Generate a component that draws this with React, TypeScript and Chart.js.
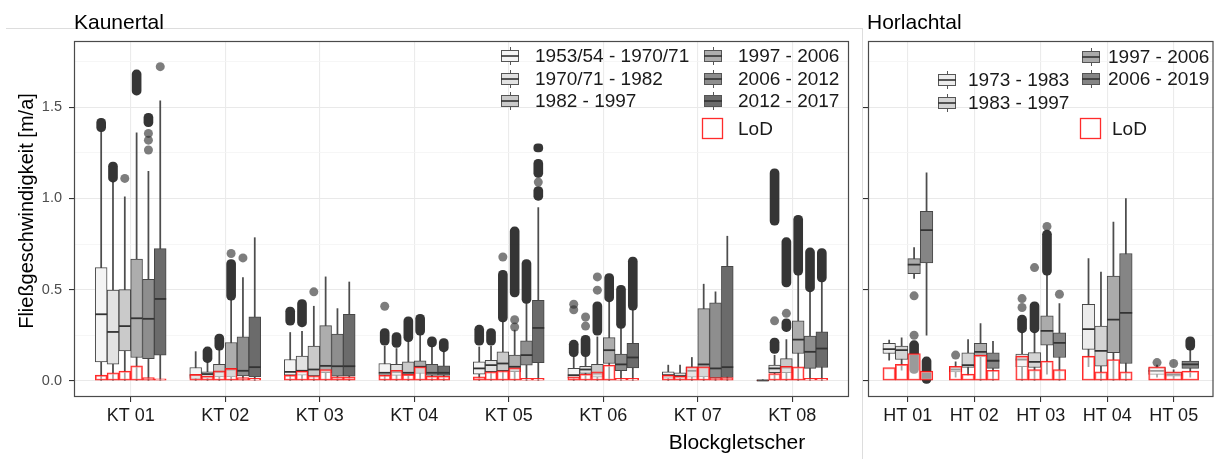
import React, { useEffect, useRef } from 'react';
import { Chart, registerables } from 'chart.js';

Chart.register(...registerables);

const FONT = '"Liberation Sans", Arial, Helvetica, sans-serif';

// ---------------- Kaunertal ----------------
const KT_CATEGORIES = ['KT 01', 'KT 02', 'KT 03', 'KT 04', 'KT 05', 'KT 06', 'KT 07', 'KT 08'];
const KT_SERIES = ['1953/54 - 1970/71', '1970/71 - 1982', '1982 - 1997', '1997 - 2006', '2006 - 2012', '2012 - 2017'];
const KT_FILLS = ['#f4f4f4', '#e2e2e2', '#cacaca', '#adadad', '#8e8e8e', '#6b6b6b'];

// [lower whisker, Q1, median, Q3, upper whisker] per glacier
const KT_BOX_S1 = [[0, 0.104, 0.365, 0.621, 1.366], [0, 0.013, 0.03, 0.073, 0.16], [0, 0.031, 0.049, 0.117, 0.265], [0, 0.031, 0.044, 0.095, 0.19], [0, 0.037, 0.068, 0.104, 0.186], [0, 0.015, 0.031, 0.068, 0.132], [0, 0.015, 0.031, 0.049, 0.086], [0, 0.001, 0.002, 0.004, 0.006]];
const KT_BOX_S2 = [[0, 0.091, 0.268, 0.497, 1.09], [0, 0.015, 0.037, 0.049, 0.1], [0, 0.031, 0.055, 0.135, 0.272], [0, 0.03, 0.049, 0.091, 0.177], [0, 0.05, 0.086, 0.113, 0.19], [0, 0.04, 0.062, 0.08, 0.13], [0, 0.015, 0.026, 0.044, 0.086], [0, 0.044, 0.068, 0.086, 0.14]];
const KT_BOX_S3 = [[0, 0.164, 0.3, 0.5, 1.009], [0, 0.022, 0.049, 0.091, 0.168], [0, 0.027, 0.062, 0.19, 0.409], [0, 0.03, 0.044, 0.104, 0.214], [0, 0.055, 0.095, 0.159, 0.323], [0, 0.02, 0.04, 0.091, 0.241], [0, 0.02, 0.055, 0.077, 0.128], [0, 0.044, 0.073, 0.122, 0.226]];
const KT_BOX_S4 = [[0, 0.128, 0.343, 0.667, 1.36], [0, 0.022, 0.062, 0.21, 0.442], [0, 0.044, 0.082, 0.303, 0.57], [0, 0.04, 0.077, 0.11, 0.25], [0, 0.05, 0.077, 0.141, 0.278], [0, 0.095, 0.168, 0.237, 0.433], [0, 0.022, 0.09, 0.396, 0.53], [0, 0.15, 0.226, 0.329, 0.579]];
const KT_BOX_S5 = [[0, 0.122, 0.34, 0.557, 1.149], [0, 0.027, 0.055, 0.241, 0.566], [0, 0.026, 0.08, 0.256, 0.396], [0, 0.03, 0.044, 0.091, 0.186], [0, 0.086, 0.141, 0.219, 0.424], [0, 0.055, 0.09, 0.146, 0.287], [0, 0.015, 0.068, 0.427, 0.488], [0, 0.068, 0.159, 0.245, 0.488]];
const KT_BOX_S6 = [[0, 0.141, 0.449, 0.725, 1.535], [0, 0.022, 0.075, 0.351, 0.785], [0, 0.026, 0.08, 0.365, 0.542], [0, 0.03, 0.044, 0.082, 0.159], [0, 0.1, 0.29, 0.442, 0.95], [0, 0.071, 0.128, 0.205, 0.387], [0, 0.018, 0.075, 0.628, 0.793], [0, 0.073, 0.177, 0.268, 0.542]];

// Limit of detection per glacier
const KT_LOD_S1 = [0.031, 0.035, 0.031, 0.031, 0.022, 0.022, 0.031, 0.004];
const KT_LOD_S2 = [0.044, 0.026, 0.053, 0.058, 0.049, 0.037, 0.026, 0.04];
const KT_LOD_S3 = [0.053, 0.055, 0.027, 0.035, 0.055, 0.049, 0.077, 0.08];
const KT_LOD_S4 = [0.082, 0.068, 0.062, 0.077, 0.071, 0.086, 0.077, 0.077];
const KT_LOD_S5 = [0.018, 0.018, 0.022, 0.026, 0.013, 0.013, 0.018, 0.013];
const KT_LOD_S6 = [0.011, 0.013, 0.022, 0.026, 0.013, 0.013, 0.018, 0.013];

// single outliers per glacier
const KT_OUT_S1 = [[], [], [], [0.409], [], [0.39, 0.42], [], []];
const KT_OUT_S2 = [[], [], [], [], [], [0.3, 0.35], [], [0.329]];
const KT_OUT_S3 = [[1.11], [], [0.488], [], [0.679], [0.497, 0.57], [], [0.37]];
const KT_OUT_S4 = [[], [0.698], [], [], [0.295, 0.335], [], [], []];
const KT_OUT_S5 = [[1.266, 1.32, 1.357], [0.674], [], [], [], [], [], []];
const KT_OUT_S6 = [[1.723], [], [], [], [1.09], [], [], []];

// dense outlier runs [from, to] per glacier
const KT_CLU_S1 = [[[1.366, 1.44]], [], [[0.305, 0.405]], [[0.195, 0.287]], [[0.195, 0.305]], [[0.132, 0.223]], [], []];
const KT_CLU_S2 = [[[1.09, 1.2]], [[0.1, 0.186]], [[0.296, 0.446]], [[0.183, 0.265]], [[0.195, 0.287]], [[0.132, 0.25]], [], [[0.15, 0.235], [0.853, 1.163]]];
const KT_CLU_S3 = [[], [[0.168, 0.256]], [], [[0.214, 0.351]], [[0.323, 0.606]], [[0.25, 0.433]], [], [[0.27, 0.34], [0.515, 0.785]]];
const KT_CLU_S4 = [[[1.567, 1.705]], [[0.442, 0.665]], [], [[0.25, 0.365]], [[0.46, 0.844]], [[0.433, 0.588]], [], [[0.579, 0.908]]];
const KT_CLU_S5 = [[[1.394, 1.467]], [], [], [[0.186, 0.241]], [[0.424, 0.665]], [[0.287, 0.524]], [], [[0.488, 0.729]]];
const KT_CLU_S6 = [[], [], [], [[0.159, 0.232]], [[0.99, 1.065], [1.115, 1.215], [1.255, 1.3]], [[0.387, 0.679]], [], [[0.542, 0.725]]];

// ---------------- Horlachtal ----------------
const HT_CATEGORIES = ['HT 01', 'HT 02', 'HT 03', 'HT 04', 'HT 05'];
const HT_SERIES = ['1973 - 1983', '1983 - 1997', '1997 - 2006', '2006 - 2019'];
const HT_FILLS = ['#ececec', '#d4d4d4', '#ababab', '#858585'];

const HT_BOX_R1 = [[0.113, 0.15, 0.174, 0.205, 0.223], [0.02, 0.049, 0.062, 0.077, 0.104], [0, 0.077, 0.117, 0.146, 0.263], [0.077, 0.172, 0.283, 0.42, 0.67], [0.02, 0.035, 0.055, 0.073, 0.086]];
const HT_BOX_R2 = [[0.058, 0.117, 0.168, 0.19, 0.236], [0.03, 0.073, 0.086, 0.153, 0.226], [0, 0.073, 0.104, 0.155, 0.263], [0, 0.08, 0.164, 0.3, 0.597], null];
const HT_BOX_R3 = [[0.561, 0.588, 0.637, 0.67, 0.731], [0, 0.131, 0.159, 0.205, 0.314], [0.037, 0.195, 0.274, 0.356, 0.579], [0, 0.155, 0.336, 0.574, 0.871], [0.01, 0.026, 0.035, 0.046, 0.06]];
const HT_BOX_R4 = [[0.25, 0.647, 0.826, 0.93, 1.14], [0, 0.068, 0.11, 0.153, 0.217], [0, 0.128, 0.208, 0.263, 0.424], [0, 0.095, 0.373, 0.698, 0.999], [0.02, 0.068, 0.09, 0.108, 0.168]];

const HT_LOD_R1 = [0.073, 0.08, 0.135, 0.135, 0.077];
const HT_LOD_R2 = [0.09, 0.037, 0.062, 0.049, null];
const HT_LOD_R3 = [0.15, 0.141, 0.108, 0.117, 0.049];
const HT_LOD_R4 = [0.053, 0.058, 0.062, 0.049, 0.053];

const HT_OUT_R1 = [[], [0.141], [0.402, 0.451], [], [0.1]];
const HT_OUT_R2 = [[], [], [0.621], [], []];
const HT_OUT_R3 = [[0.25, 0.466], [], [0.847], [], [0.095]];
const HT_OUT_R4 = [[], [], [0.475], [], []];

const HT_CLU_R1 = [[], [], [[0.263, 0.36]], [], []];
const HT_CLU_R2 = [[], [], [[0.263, 0.433]], [], []];
const HT_CLU_R3 = [[[0.04, 0.22]], [], [[0.579, 0.826]], [], []];
const HT_CLU_R4 = [[[-0.015, 0.131]], [], [], [], [[0.168, 0.241]]];

// ---------------- axes ----------------
const Y_MAJOR = [0, 0.5, 1, 1.5];
const Y_MINOR = [0.25, 0.75, 1.25, 1.75];
const Y_MIN = -0.0888;
const Y_MAX = 1.8637;
const LOD_LABEL = 'LoD';
const Y_TITLE = 'Fließgeschwindigkeit [m/a]';
const X_TITLE = 'Blockgletscher';

const DODGE = 0.75;

type Panel = {
  title: string;
  categories: string[];
  series: string[];
  fills: string[];
  boxes: (number[] | null)[][];
  lods: (number | null)[][];
  outliers: number[][][];
  clusters: number[][][][];
  canvasWidth: number;
  areaLeft: number;
  areaRight: number;
  showYLabels: boolean;
  legend: { s: number; cx: number; tx: number; cy: number }[];
  lodKey: { x: number; y: number; size: number; tx: number; ty: number };
  titlePos: { x: number; y: number };
  yTitle?: { x: number; y: number };
  xTitle?: { x: number; y: number };
};

const AREA_TOP = 41;
const AREA_BOTTOM = 397;
const CANVAS_H = 459;

const KT_PANEL: Panel = {
  title: 'Kaunertal',
  categories: KT_CATEGORIES,
  series: KT_SERIES,
  fills: KT_FILLS,
  boxes: [KT_BOX_S1, KT_BOX_S2, KT_BOX_S3, KT_BOX_S4, KT_BOX_S5, KT_BOX_S6],
  lods: [KT_LOD_S1, KT_LOD_S2, KT_LOD_S3, KT_LOD_S4, KT_LOD_S5, KT_LOD_S6],
  outliers: [KT_OUT_S1, KT_OUT_S2, KT_OUT_S3, KT_OUT_S4, KT_OUT_S5, KT_OUT_S6],
  clusters: [KT_CLU_S1, KT_CLU_S2, KT_CLU_S3, KT_CLU_S4, KT_CLU_S5, KT_CLU_S6],
  canvasWidth: 862,
  areaLeft: 74,
  areaRight: 849,
  showYLabels: true,
  legend: [
    { s: 0, cx: 510, tx: 535, cy: 56 },
    { s: 1, cx: 510, tx: 535, cy: 79 },
    { s: 2, cx: 510, tx: 535, cy: 101 },
    { s: 3, cx: 713, tx: 738, cy: 56 },
    { s: 4, cx: 713, tx: 738, cy: 79 },
    { s: 5, cx: 713, tx: 738, cy: 101 },
  ],
  lodKey: { x: 702, y: 118, size: 21, tx: 738, ty: 129 },
  titlePos: { x: 74, y: 29 },
  yTitle: { x: 27, y: 211 },
  xTitle: { x: 737, y: 449 },
};

const HT_PANEL: Panel = {
  title: 'Horlachtal',
  categories: HT_CATEGORIES,
  series: HT_SERIES,
  fills: HT_FILLS,
  boxes: [HT_BOX_R1, HT_BOX_R2, HT_BOX_R3, HT_BOX_R4],
  lods: [HT_LOD_R1, HT_LOD_R2, HT_LOD_R3, HT_LOD_R4],
  outliers: [HT_OUT_R1, HT_OUT_R2, HT_OUT_R3, HT_OUT_R4],
  clusters: [HT_CLU_R1, HT_CLU_R2, HT_CLU_R3, HT_CLU_R4],
  canvasWidth: 362,
  areaLeft: 12,
  areaRight: 361,
  showYLabels: false,
  legend: [
    { s: 0, cx: 91, tx: 112, cy: 80 },
    { s: 1, cx: 91, tx: 112, cy: 103 },
    { s: 2, cx: 235, tx: 252, cy: 57 },
    { s: 3, cx: 235, tx: 252, cy: 79 },
  ],
  lodKey: { x: 224, y: 118, size: 21, tx: 256, ty: 129 },
  titlePos: { x: 11, y: 29 },
};

function drawIcon(ctx: CanvasRenderingContext2D, cx: number, cy: number, fill: string) {
  ctx.save();
  ctx.strokeStyle = '#555';
  ctx.lineWidth = 1;
  ctx.beginPath();
  ctx.moveTo(cx + 0.5, cy - 9);
  ctx.lineTo(cx + 0.5, cy + 9);
  ctx.stroke();
  ctx.fillStyle = fill;
  ctx.fillRect(cx - 9, cy - 6, 18, 12);
  ctx.strokeRect(cx - 8.5, cy - 5.5, 17, 11);
  ctx.strokeStyle = '#333';
  ctx.lineWidth = 1.6;
  ctx.beginPath();
  ctx.moveTo(cx - 9, cy);
  ctx.lineTo(cx + 9, cy);
  ctx.stroke();
  ctx.restore();
}

function buildConfig(p: Panel): any {
  const nCat = p.categories.length;
  const xMin = -0.6;
  const xMax = nCat - 1 + 0.6;
  const pxPerUnit = (p.areaRight - p.areaLeft) / (xMax - xMin);

  const buckets = new Map<string, any>();
  p.series.forEach((_, j) => {
    p.categories.forEach((__, i) => {
      const box = p.boxes[j][i];
      if (!box) return;
      const present: number[] = [];
      p.boxes.forEach((s, jj) => { if (s[i]) present.push(jj); });
      const n = present.length;
      const k = present.indexOf(j);
      const w = DODGE / n;
      const x = i - DODGE / 2 + w * (k + 0.5);
      const key = j + '|' + n;
      let b = buckets.get(key);
      if (!b) {
        b = { j, thick: w * pxPerUnit, whisk: [], box: [], med: [], clu: [], pts: [], lod: [] };
        buckets.set(key, b);
      }
      b.whisk.push({ x, y: [box[0], box[4]] });
      b.box.push({ x, y: [box[1], box[3]] });
      b.med.push(box[2]);
      p.clusters[j][i].forEach((c) => b.clu.push({ x, y: [c[0], c[1]] }));
      p.outliers[j][i].forEach((v) => b.pts.push({ x, y: v }));
      const lod = p.lods[j][i];
      if (lod != null) b.lod.push({ x, y: [0, lod] });
    });
  });

  const datasets: any[] = [];
  buckets.forEach((b) => {
    datasets.push({
      type: 'bar', data: b.whisk, grouped: false, barThickness: 1.1,
      backgroundColor: '#4d4d4d', borderWidth: 0, order: 6,
    });
    datasets.push({
      type: 'bar', data: b.box, grouped: false, barThickness: b.thick,
      backgroundColor: p.fills[b.j], borderColor: '#474747', borderWidth: 1,
      borderSkipped: false, order: 5, medians: b.med,
    });
    datasets.push({
      type: 'bar', data: b.clu, grouped: false, barThickness: 9,
      backgroundColor: 'rgba(38,38,38,0.93)', borderWidth: 0, borderRadius: 4.5,
      borderSkipped: false, order: 4,
    });
    datasets.push({
      type: 'scatter', data: b.pts, pointRadius: 4.5, pointHoverRadius: 4.5,
      backgroundColor: 'rgba(45,45,45,0.62)', borderWidth: 0, order: 3,
    });
    datasets.push({
      type: 'bar', data: b.lod, grouped: false, barThickness: b.thick,
      backgroundColor: 'rgba(255,255,255,0.5)', borderColor: 'rgba(255,20,20,0.9)', borderWidth: 1.3,
      borderSkipped: false, order: 2,
    });
  });

  const decor = {
    id: 'decor',
    afterDatasetDraw(chart: any, args: any) {
      const ds = chart.data.datasets[args.index];
      if (!ds.medians) return;
      const ctx = chart.ctx as CanvasRenderingContext2D;
      const ys = chart.scales.y;
      const a = chart.chartArea;
      ctx.save();
      ctx.beginPath();
      ctx.rect(a.left, a.top, a.right - a.left, a.bottom - a.top);
      ctx.clip();
      ctx.strokeStyle = '#333';
      ctx.lineWidth = 1.8;
      args.meta.data.forEach((el: any, i: number) => {
        const py = ys.getPixelForValue(ds.medians[i]);
        ctx.beginPath();
        ctx.moveTo(el.x - el.width / 2, py);
        ctx.lineTo(el.x + el.width / 2, py);
        ctx.stroke();
      });
      ctx.restore();
    },
    afterDraw(chart: any) {
      const ctx = chart.ctx as CanvasRenderingContext2D;
      const a = chart.chartArea;
      ctx.save();
      // panel border
      ctx.strokeStyle = '#4a4a4a';
      ctx.lineWidth = 1.2;
      ctx.strokeRect(a.left + 0.5, a.top + 0.5, a.right - a.left - 1, a.bottom - a.top - 1);
      // legend
      ctx.font = `19px ${FONT}`;
      ctx.fillStyle = '#1a1a1a';
      ctx.textBaseline = 'middle';
      ctx.textAlign = 'left';
      p.legend.forEach((it) => {
        drawIcon(ctx, it.cx, it.cy, p.fills[it.s]);
        ctx.fillStyle = '#1a1a1a';
        ctx.fillText(p.series[it.s], it.tx, it.cy + 1);
      });
      const L = p.lodKey;
      ctx.fillStyle = '#fff';
      ctx.fillRect(L.x, L.y, L.size, L.size);
      ctx.strokeStyle = 'rgba(255,20,20,0.9)';
      ctx.lineWidth = 1.3;
      ctx.strokeRect(L.x + 0.5, L.y + 0.5, L.size - 1, L.size - 1);
      ctx.fillStyle = '#1a1a1a';
      ctx.fillText(LOD_LABEL, L.tx, L.ty + 1);
      // titles
      ctx.textBaseline = 'alphabetic';
      ctx.font = `21px ${FONT}`;
      ctx.fillStyle = '#000';
      ctx.fillText(p.title, p.titlePos.x, p.titlePos.y);
      if (p.xTitle) {
        ctx.textAlign = 'center';
        ctx.fillText(X_TITLE, p.xTitle.x, p.xTitle.y);
      }
      if (p.yTitle) {
        ctx.save();
        ctx.translate(p.yTitle.x, p.yTitle.y);
        ctx.rotate(-Math.PI / 2);
        ctx.textAlign = 'center';
        ctx.textBaseline = 'middle';
        ctx.font = `20px ${FONT}`;
        ctx.fillText(Y_TITLE, 0, 0);
        ctx.restore();
      }
      ctx.restore();
    },
  };

  return {
    type: 'bar',
    data: { datasets },
    plugins: [decor],
    options: {
      responsive: false,
      maintainAspectRatio: false,
      animation: false,
      events: [],
      layout: { padding: { left: 0, top: AREA_TOP, right: p.canvasWidth - p.areaRight, bottom: 0 } },
      plugins: { legend: { display: false }, tooltip: { enabled: false }, title: { display: false } },
      scales: {
        x: {
          type: 'linear',
          min: xMin,
          max: xMax,
          offset: false,
          afterBuildTicks: (axis: any) => { axis.ticks = p.categories.map((_, i) => ({ value: i })); },
          afterFit: (axis: any) => { axis.height = CANVAS_H - AREA_BOTTOM; },
          grid: { offset: false, color: '#ebebeb', lineWidth: 1.1, drawTicks: true, tickLength: 5, tickColor: '#333', tickWidth: 1.1 },
          border: { display: false },
          ticks: {
            autoSkip: false, maxRotation: 0, minRotation: 0, padding: 3,
            color: '#1a1a1a', font: { family: FONT, size: 18 },
            callback: (v: any) => p.categories[Math.round(v)] ?? '',
          },
        },
        y: {
          type: 'linear',
          min: Y_MIN,
          max: Y_MAX,
          afterBuildTicks: (axis: any) => {
            axis.ticks = [...Y_MAJOR, ...Y_MINOR].sort((a, b) => a - b).map((v) => ({ value: v }));
          },
          afterFit: (axis: any) => { axis.width = p.areaLeft; },
          grid: {
            color: (c: any) => (Y_MAJOR.includes(c.tick?.value) ? '#e9e9e9' : '#f4f4f4'),
            lineWidth: (c: any) => (Y_MAJOR.includes(c.tick?.value) ? 1.1 : 0.8),
            drawTicks: true,
            tickLength: 5,
            tickColor: (c: any) => (Y_MAJOR.includes(c.tick?.value) ? '#333' : 'rgba(0,0,0,0)'),
            tickWidth: 1.1,
          },
          border: { display: false },
          ticks: {
            display: p.showYLabels,
            padding: 7,
            color: '#4d4d4d',
            font: { family: FONT, size: 14.5 },
            callback: (v: any) => (Y_MAJOR.includes(v) ? Number(v).toFixed(1) : ''),
          },
        },
      },
    },
  };
}

export default function App() {
  const leftRef = useRef<HTMLCanvasElement>(null);
  const rightRef = useRef<HTMLCanvasElement>(null);

  useEffect(() => {
    const c1 = new Chart(leftRef.current as HTMLCanvasElement, buildConfig(KT_PANEL));
    const c2 = new Chart(rightRef.current as HTMLCanvasElement, buildConfig(HT_PANEL));
    return () => {
      c1.destroy();
      c2.destroy();
    };
  }, []);

  return (
    <div style={{ position: 'absolute', left: 0, top: 0, width: 1218, height: 459, overflow: 'hidden', background: '#fff' }}>
      <div style={{ position: 'absolute', left: 6, top: 28, width: 856, height: 0, borderTop: '1px solid #dddddd' }} />
      <div style={{ position: 'absolute', left: 862, top: 28, width: 0, height: 431, borderLeft: '1px solid #dddddd' }} />
      <canvas ref={leftRef} width={862} height={459} style={{ position: 'absolute', left: 0, top: 0, width: 862, height: 459 }} />
      <canvas ref={rightRef} width={362} height={459} style={{ position: 'absolute', left: 856, top: 0, width: 362, height: 459 }} />
    </div>
  );
}
